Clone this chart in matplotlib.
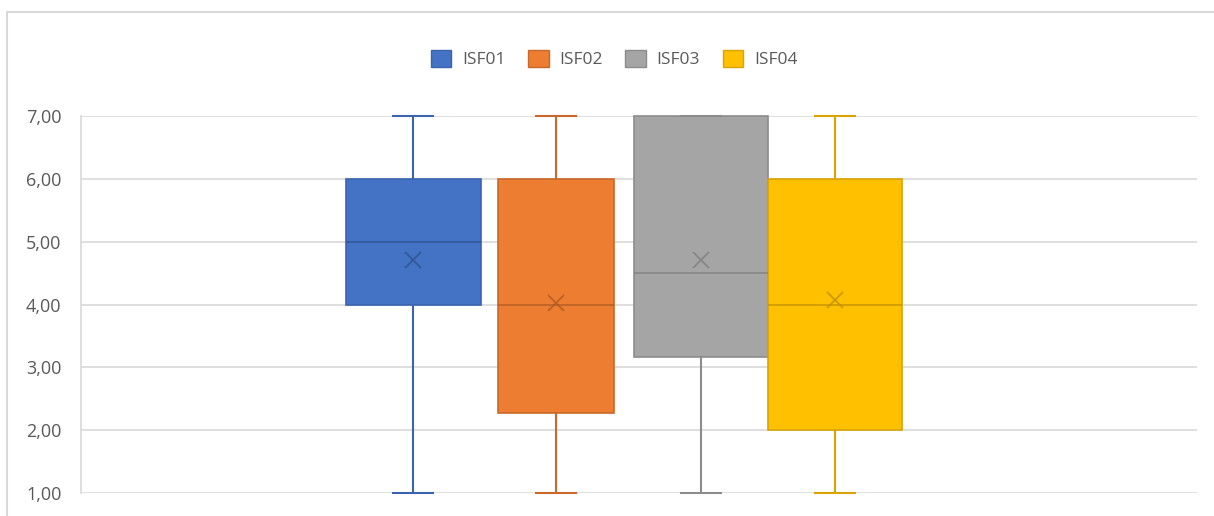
import matplotlib
matplotlib.use("Agg")
import matplotlib.pyplot as plt
from matplotlib.patches import Patch, Rectangle
from matplotlib.ticker import FuncFormatter

# dados das quatro series (um unico grupo)
series = ["ISF01", "ISF02", "ISF03", "ISF04"]
minimo = [1.0, 1.0, 1.0, 1.0]
q1 = [4.0, 2.28, 3.16, 2.0]
mediana = [5.0, 4.0, 4.5, 4.0]
q3 = [6.0, 6.0, 7.0, 6.0]
maximo = [7.0, 7.0, 7.0, 7.0]
media = [4.71, 4.02, 4.71, 4.07]

cores = ["#4472C4", "#ED7D31", "#A5A5A5", "#FFC000"]
bordas = ["#3A64AE", "#C9682A", "#8C8C8C", "#D9A300"]
escuras = ["#2F528F", "#AE5A21", "#7F7F7F", "#BF9000"]

# posicoes e larguras das caixas no eixo x
posicoes = [413, 556, 701, 835]
larguras = [135, 116, 134, 134]

plt.rcParams["font.family"] = ["Open Sans", "DejaVu Sans"]

fig = plt.figure(figsize=(12.14, 5.16), dpi=100)
fig.patch.set_facecolor("white")

# moldura do grafico
fig.patches.append(Rectangle((7 / 1214, -0.1), 1.2, 1 - 12 / 516 + 0.1,
                             transform=fig.transFigure, fill=False,
                             edgecolor="#D9D9D9", linewidth=1.5))

ax = fig.add_axes([81 / 1214, 1 - 493 / 516, (1197 - 81) / 1214, (493 - 116) / 516])

for i in range(len(series)):
    stats = [dict(med=mediana[i], q1=q1[i], q3=q3[i], whislo=minimo[i],
                  whishi=maximo[i], mean=media[i], fliers=[])]
    ax.bxp(stats, positions=[posicoes[i]], widths=[larguras[i]], patch_artist=True,
           showmeans=True, manage_ticks=False,
           boxprops=dict(facecolor=cores[i], edgecolor=bordas[i], linewidth=1.2),
           medianprops=dict(color=escuras[i], linewidth=1.2, alpha=0.8),
           whiskerprops=dict(color=bordas[i], linewidth=1.5),
           capprops=dict(color=bordas[i], linewidth=1.5),
           capwidths=[40],
           meanprops=dict(marker="x", markeredgecolor=escuras[i], markersize=11,
                          markeredgewidth=1.3, alpha=0.8))

for artist in ax.lines + ax.patches:
    artist.set_clip_on(False)

ax.set_xlim(81, 1197)
ax.set_ylim(1, 7)
ax.set_yticks([1, 2, 3, 4, 5, 6, 7])
ax.yaxis.set_major_formatter(FuncFormatter(lambda v, p: f"{v:.2f}".replace(".", ",")))
ax.set_xticks([])
ax.grid(axis="y", color="#D9D9D9", linewidth=1.2, zorder=0)
ax.set_axisbelow(True)
for lado in ["top", "right", "bottom"]:
    ax.spines[lado].set_visible(False)
ax.spines["left"].set_color("#D9D9D9")
ax.spines["left"].set_linewidth(1.2)
ax.tick_params(axis="y", length=0, pad=14, labelsize=13, labelcolor="#595959")

# legenda no topo
handles = [Patch(facecolor=cores[i], edgecolor=bordas[i], label=series[i]) for i in range(len(series))]
fig.legend(handles=handles, loc="center", bbox_to_anchor=(614 / 1214, 1 - 59 / 516), ncol=4,
           frameon=False, fontsize=12.5, labelcolor="#595959", handlelength=1.2,
           handleheight=1.2, handletextpad=0.6, columnspacing=1.3)

fig.savefig("out.png", dpi=100)
